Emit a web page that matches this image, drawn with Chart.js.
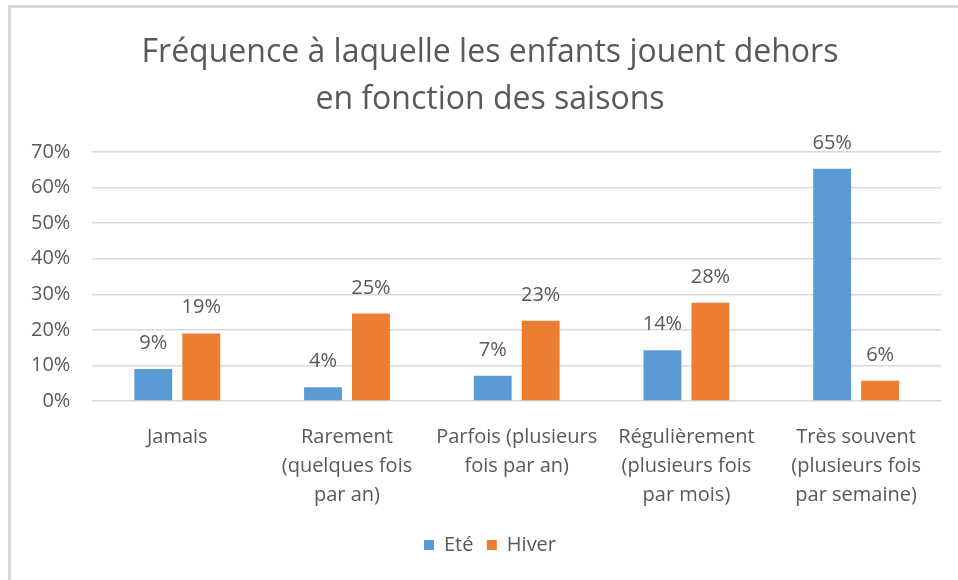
<!DOCTYPE html>
<html>
<head>
<meta charset="utf-8">
<script src="https://cdn.jsdelivr.net/npm/chart.js@4"></script>
<style>
  html,body{margin:0;padding:0;background:#fff;}
  #frame{position:absolute;left:8px;top:5px;width:947px;height:572px;border-top:3px solid #d9d9d9;border-left:3px solid #d9d9d9;}
  canvas{display:block;}
</style>
</head>
<body>
<div id="frame"><canvas id="chart" width="947" height="572"></canvas></div>
<script>
const categories=[
  ['Jamais'],
  ['Rarement','(quelques fois','par an)'],
  ['Parfois (plusieurs','fois par an)'],
  ['Régulièrement','(plusieurs fois','par mois)'],
  ['Très souvent','(plusieurs fois','par semaine)']
]
const ete=[9.0,3.9,7.1,14.3,65.3]
const hiver=[19.0,24.6,22.6,27.6,5.7]
const yTicks=[0,10,20,30,40,50,60,70]

const grey='#595959'
const fontFam='"Open Sans", Lato, sans-serif'

// labels above the bars, like excel data labels
const barLabels={
  id:'barLabels',
  afterDatasetsDraw(chart){
    const ctx=chart.ctx
    ctx.save()
    ctx.font='20px '+fontFam
    ctx.fillStyle=grey
    ctx.textAlign='center'
    ctx.textBaseline='alphabetic'
    chart.data.datasets.forEach((ds,i)=>{
      chart.getDatasetMeta(i).data.forEach((bar,j)=>{
        ctx.fillText(Math.round(ds.data[j])+'%',bar.x,bar.y-20)
      })
    })
    ctx.restore()
  }
}

new Chart(document.getElementById('chart'),{
  type:'bar',
  data:{
    labels:categories,
    datasets:[
      {label:'Eté',data:ete,backgroundColor:'#5b9bd5',categoryPercentage:0.565,barPercentage:0.79},
      {label:'Hiver',data:hiver,backgroundColor:'#ed7d31',categoryPercentage:0.565,barPercentage:0.79}
    ]
  },
  options:{
    responsive:false,
    animation:false,
    // the excel chart is cut on the right, so title/legend sit right of centre
    layout:{padding:{left:-2,right:-13,top:0,bottom:15}},
    plugins:{
      title:{
        display:true,
        text:['Fréquence à laquelle les enfants jouent dehors','en fonction des saisons'],
        color:grey,
        font:{family:fontFam,size:32,weight:'normal',lineHeight:1.47},
        padding:{top:21,bottom:29}
      },
      legend:{
        position:'bottom',
        labels:{
          color:grey,font:{family:fontFam,size:20},boxWidth:10,boxHeight:10,padding:3,
          // a bit more room between the two entries
          generateLabels(chart){
            const items=Chart.defaults.plugins.legend.labels.generateLabels(chart)
            items.forEach((it,i)=>{if(i<items.length-1) it.text=it.text+'  '})
            return items
          }
        }
      },
      tooltip:{enabled:false}
    },
    scales:{
      x:{
        grid:{display:false,drawTicks:false},
        border:{display:false},
        ticks:{color:grey,font:{family:fontFam,size:20,lineHeight:1.45},padding:22,maxRotation:0,autoSkip:false}
      },
      y:{
        min:0,max:70,
        afterBuildTicks(axis){axis.ticks=yTicks.map(v=>({value:v}))},
        grid:{color:'#d9d9d9',lineWidth:1.5,drawTicks:false},
        border:{display:false},
        ticks:{color:grey,font:{family:fontFam,size:20},padding:22,callback:v=>v+'%'}
      },
      // empty spacer on the right
      yr:{
        position:'right',
        grid:{display:false,drawTicks:false},
        border:{display:false},
        ticks:{display:false},
        afterFit(axis){axis.width=30}
      }
    }
  },
  plugins:[barLabels]
})
</script>
</body>
</html>
